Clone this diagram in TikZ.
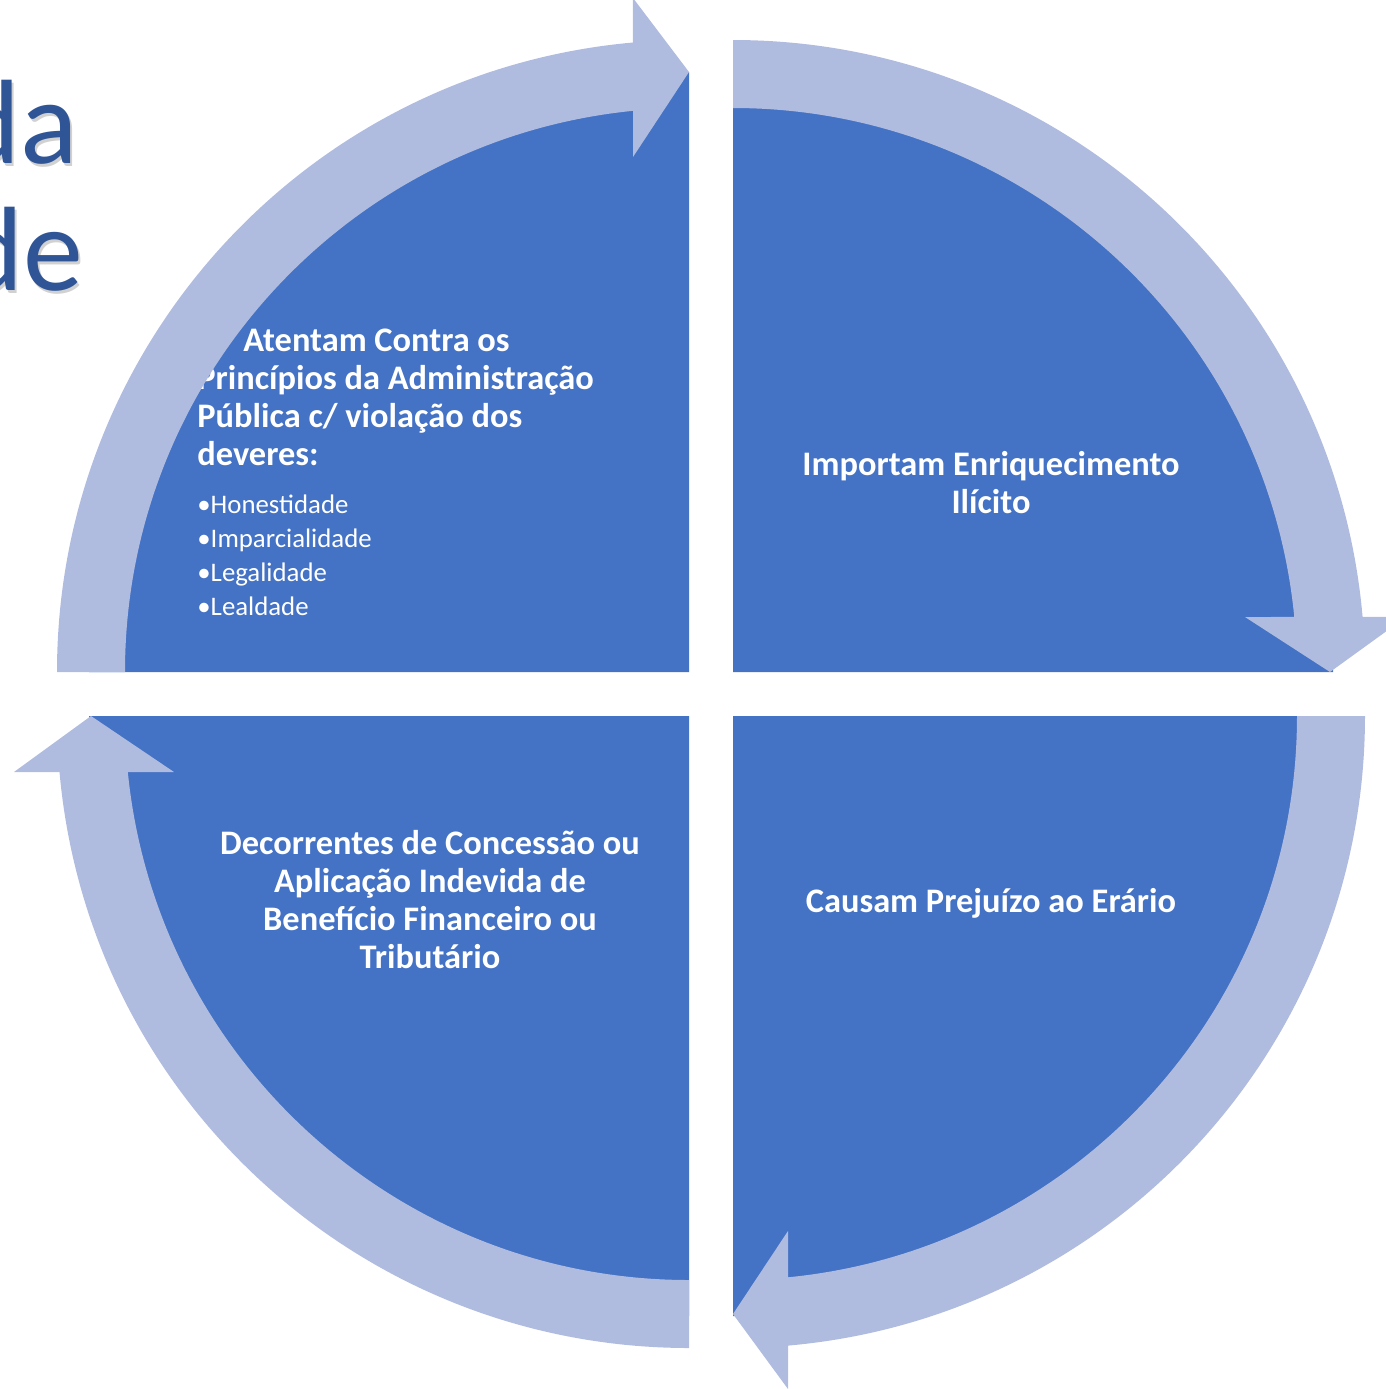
\documentclass[tikz,border=0pt]{standalone}
\usepackage{fontspec}
\setmainfont{Carlito}
\usetikzlibrary{calc}
\definecolor{quadblue}{HTML}{4472C4}
\definecolor{ringblue}{HTML}{B0BCDF}
\definecolor{titleblue}{HTML}{2F5597}
\tikzset{
    quad/.style={fill=quadblue, draw=none},
    ring/.style={fill=ringblue, draw=none},
    quadtext/.style={text=white, font=\bfseries\fontsize{17.2}{19}\selectfont, inner sep=0pt},
    bullettext/.style={text=white, font=\fontsize{13.4}{17}\selectfont, inner sep=0pt, align=left},
    titletext/.style={text=titleblue, font=\fontsize{60}{72}\selectfont, inner sep=0pt, anchor=base west},
    titleshadow/.style={titletext, text=black, opacity=0.18}
}

\begin{document}
\begin{tikzpicture}[x=0.5pt, y=-0.5pt]
        \useasboundingbox (0,0) rectangle (1386,1389);
        \clip (0,0) rectangle (1386,1389);

        % corners of the quadrants
        \coordinate (cTL) at (689,672);
        \coordinate (cTR) at (733,672);
        \coordinate (cBR) at (733,716);
        \coordinate (cBL) at (689,716);

        % title behind the cycle
        \node (T1_shadow) [titleshadow] at (-41,166) {da};
        \node (T2_shadow) [titleshadow] at (-38,293) {de};
        \node (T1) [titletext] at (-43,163) {da};
        \node (T2) [titletext] at (-40,290) {de};

        % Quadrants
        \fill[quad] (cTL) -- ++(-600,0) arc[start angle=180, end angle=270, radius=600] -- cycle;
        \fill[quad] (cTR) -- ++(0,-600) arc[start angle=270, end angle=360, radius=600] -- cycle;
        \fill[quad] (cBR) -- ++(600,0) arc[start angle=0, end angle=90, radius=600] -- cycle;
        \fill[quad] (cBL) -- ++(0,600) arc[start angle=90, end angle=180, radius=600] -- cycle;

        % Texts (base = last line)
        \node (Q1_text) [quadtext, align=left, anchor=base west] at (197,465)
            {\hspace*{23pt}Atentam Contra os\\Princípios da Administração\\Pública c/ violação dos\\deveres:};
        \node (Q1_list) [bullettext, anchor=base west] at (197,615)
            {•Honestidade\\•Imparcialidade\\•Legalidade\\•Lealdade};
        \node (Q2_text) [quadtext, align=center, anchor=base] at (991,513)
            {Importam Enriquecimento\\Ilícito};
        \node (Q3_text) [quadtext, align=center, anchor=base] at (991,912)
            {Causam Prejuízo ao Erário};
        \node (Q4_text) [quadtext, align=center, anchor=base] at (430,968)
            {Decorrentes de Concessão ou\\Aplicação Indevida de\\Benefício Financeiro ou\\Tributário};

        % Circular arrows
        \fill[ring] ($(cTL)+(180:632)$) arc[start angle=180, end angle=264.9, radius=632]
            -- (633,-2) -- (689,72) -- (633,157)
            -- ($(cTL)+(264.3:564)$) arc[start angle=264.3, end angle=180, radius=564] -- cycle;
        \fill[ring] ($(cTR)+(270:632)$) arc[start angle=270, end angle=355, radius=632]
            -- (1406,617) -- (1330,672) -- (1245,617)
            -- ($(cTR)+(354.4:564)$) arc[start angle=354.4, end angle=270, radius=564] -- cycle;
        \fill[ring] ($(cBR)+(0:632)$) arc[start angle=0, end angle=85, radius=632]
            -- (788,1389) -- (733,1314) -- (788,1231)
            -- ($(cBR)+(84.4:564)$) arc[start angle=84.4, end angle=0, radius=564] -- cycle;
        \fill[ring] ($(cBL)+(90:632)$) arc[start angle=90, end angle=174.9, radius=632]
            -- (14,772) -- (91,716) -- (174,772)
            -- ($(cBL)+(174.3:564)$) arc[start angle=174.3, end angle=90, radius=564] -- cycle;
    \end{tikzpicture}
\end{document}
